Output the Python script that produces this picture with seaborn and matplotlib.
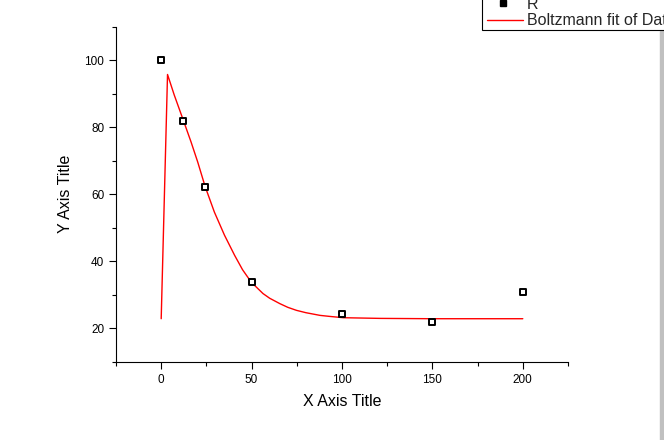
import numpy as np
import pandas as pd
import matplotlib
matplotlib.use("Agg")
import matplotlib.pyplot as plt
from matplotlib.lines import Line2D
from matplotlib.patches import Rectangle
from matplotlib.ticker import MultipleLocator
from matplotlib.legend_handler import HandlerLine2D
import seaborn as sns

# data
pt_x = [0, 12, 24, 50, 100, 150, 200]
pt_y = [100.0, 81.8, 62.3, 33.8, 24.4, 21.9, 31.0]

fit_x = [0, 3.5, 7.2, 12.4, 16.5, 20.2, 24.3, 29.4, 35, 40.6, 45, 49.8,
         56.3, 60, 65.6, 70, 74.8, 80, 87.8, 93, 100.7, 121, 150, 200]
fit_y = [22.9, 95.7, 89.6, 81.8, 75.6, 69.6, 62.3, 54.7, 47.8, 41.8, 37.5,
         33.8, 30.4, 29.0, 27.4, 26.3, 25.4, 24.7, 23.9, 23.6, 23.2, 23.0,
         22.9, 22.9]

x_ticks = [0, 50, 100, 150, 200]
y_ticks = [20, 40, 60, 80, 100]
series_label = "R"
fit_label = "Boltzmann fit of Data1_R"

sns.set_theme(style="ticks")
plt.rcParams['font.family'] = ['Liberation Sans', 'DejaVu Sans']

W, H = 664, 440
fig = plt.figure(figsize=(W / 100, H / 100), dpi=100)
ax = fig.add_axes([116 / W, 1 - 362 / H, (568 - 116) / W, (362 - 26.5) / H])

df_pts = pd.DataFrame({"x": pt_x, "y": pt_y})
df_fit = pd.DataFrame({"x": fit_x, "y": fit_y})

sns.lineplot(data=df_fit, x="x", y="y", ax=ax, color="#ff0000", linewidth=1.0,
             sort=False, estimator=None, legend=False)
sns.scatterplot(data=df_pts, x="x", y="y", ax=ax, marker="s", s=18,
                facecolor="white", edgecolor="black", linewidth=1.4,
                legend=False, zorder=3)

ax.set_xlim(-25, 225)
ax.set_ylim(10, 110)
ax.set_xticks(x_ticks)
ax.set_yticks(y_ticks)
ax.xaxis.set_minor_locator(MultipleLocator(25))
ax.yaxis.set_minor_locator(MultipleLocator(10))
for s in ["top", "right"]:
    ax.spines[s].set_visible(False)
for s in ["left", "bottom"]:
    ax.spines[s].set_color("black")
    ax.spines[s].set_linewidth(0.8)
ax.tick_params(which="major", direction="out", length=5, width=0.8,
               color="black", labelsize=8.5, pad=3.5, labelcolor="black")
ax.tick_params(which="minor", direction="out", length=3, width=0.8, color="black")
ax.set_xlabel("X Axis Title", fontsize=11.5, color="black", labelpad=6)
ax.set_ylabel("Y Axis Title", fontsize=11.5, color="black", labelpad=8)
ax.grid(False)

handles = [
    Line2D([], [], marker="s", linestyle="none", color="black", markersize=4.5),
    Line2D([], [], color="#ff0000", linewidth=1.0),
]
leg = fig.legend(handles, [series_label, fit_label], loc="lower left",
                 bbox_to_anchor=(482 / W, 1 - 30 / H), fontsize=11.5,
                 frameon=True, fancybox=False, framealpha=1, edgecolor="black",
                 borderpad=0.1, handlelength=2.46, handletextpad=0.25,
                 labelspacing=0.1, borderaxespad=0,
                 handler_map={handles[1]: HandlerLine2D(xpad=0.2)})
leg.get_frame().set_linewidth(0.8)

fig.add_artist(Rectangle((660 / W, 0), 4 / W, 409 / H, transform=fig.transFigure,
                         color="#c0c0c0", zorder=0))

fig.savefig("out.png", dpi=100)
